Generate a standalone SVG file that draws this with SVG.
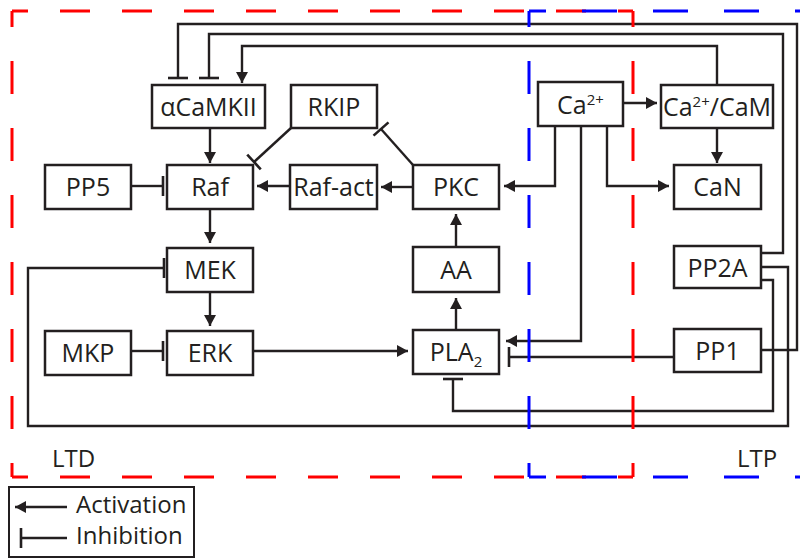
<svg xmlns="http://www.w3.org/2000/svg" width="800" height="558" viewBox="0 0 800 558">
<defs>
<style>
.box{fill:#fff;stroke:#231f20;stroke-width:2.5}
.t{font-family:"Open Sans","Noto Sans",sans-serif;font-size:25px;fill:#231f20;text-anchor:middle}
.tl{font-family:"Open Sans","Noto Sans",sans-serif;font-size:24px;fill:#231f20}
.act{fill:none;stroke:#231f20;stroke-width:2.4;marker-end:url(#arrow)}
.inh{fill:none;stroke:#231f20;stroke-width:2.4;marker-end:url(#bar)}
.rh{fill:none;stroke:#ff0000;stroke-width:3;stroke-dasharray:30 32;stroke-dashoffset:14}
.rv{fill:none;stroke:#ff0000;stroke-width:3;stroke-dasharray:33 34;stroke-dashoffset:17}
.bh{fill:none;stroke:#0000ff;stroke-width:3;stroke-dasharray:35 36;stroke-dashoffset:18}
.bv{fill:none;stroke:#0000ff;stroke-width:3;stroke-dasharray:33 34;stroke-dashoffset:17}
</style>
<marker id="arrow" markerUnits="userSpaceOnUse" markerWidth="12" markerHeight="12" refX="11" refY="6" orient="auto" viewBox="0 0 12 12">
<path d="M0,0 L11,6 L0,12 z" fill="#231f20"/>
</marker>
<marker id="bar" markerUnits="userSpaceOnUse" markerWidth="4" markerHeight="22" refX="2" refY="11" orient="auto" viewBox="0 0 4 22">
<path d="M2,1 V21" stroke="#231f20" stroke-width="2.6"/>
</marker>
</defs>

<g id="connectors">
<path class="act" d="M717,85 V46 H242 V83"/>
<path class="act" d="M623,103 H657"/>
<path class="act" d="M717,128 V163"/>
<path class="act" d="M555,126 V186 H504"/>
<path class="act" d="M581,126 V341 H506"/>
<path class="act" d="M607,126 V186 H669"/>
<path class="act" d="M210,128 V163"/>
<path class="act" d="M290,186 H257"/>
<path class="act" d="M413,187 H381"/>
<path class="act" d="M210,209 V243"/>
<path class="act" d="M210,292 V326"/>
<path class="act" d="M253,351 H408"/>
<path class="act" d="M456,330 V298"/>
<path class="act" d="M456,247 V214"/>
<path class="inh" d="M761,350 H797 V24 H178 V78"/>
<path class="inh" d="M761,253 H783 V34 H209 V78"/>
<path class="inh" d="M761,267 H788 V426 H28 V268 H164"/>
<path class="inh" d="M761,280 H773 V411 H453 V379"/>
<path class="inh" d="M674,357 H509"/>
<path class="inh" d="M131,186 H163"/>
<path class="inh" d="M131,351 H163"/>
<path class="inh" d="M291,128 L254,162"/>
<path class="inh" d="M413,165 L381,129"/>
</g>

<g id="n-camkii"><rect class="box" x="152" y="85" width="113" height="43"/><text class="t" x="208.5" y="115.5">αCaMKII</text></g>
<g id="n-rkip"><rect class="box" x="291" y="85" width="86" height="43"/><text class="t" x="334" y="115.5">RKIP</text></g>
<g id="n-ca"><rect class="box" x="538" y="82" width="85" height="44"/><text class="t" x="580.5" y="113.5">Ca<tspan font-size="15" dy="-9">2+</tspan></text></g>
<g id="n-cacam"><rect class="box" x="661" y="85" width="112" height="43"/><text class="t" x="717" y="115.5" font-size="24">Ca<tspan font-size="15" dy="-9">2+</tspan><tspan dy="9">/CaM</tspan></text></g>
<g id="n-pp5"><rect class="box" x="45" y="165" width="86" height="44"/><text class="t" x="88" y="196">PP5</text></g>
<g id="n-raf"><rect class="box" x="167" y="165" width="86" height="44"/><text class="t" x="210" y="196">Raf</text></g>
<g id="n-rafact"><rect class="box" x="290" y="165" width="87" height="44"/><text class="t" x="333.5" y="196">Raf-act</text></g>
<g id="n-pkc"><rect class="box" x="413" y="165" width="86" height="44"/><text class="t" x="456" y="196">PKC</text></g>
<g id="n-can"><rect class="box" x="674" y="165" width="87" height="44"/><text class="t" x="717.5" y="196">CaN</text></g>
<g id="n-mek"><rect class="box" x="167" y="248" width="86" height="44"/><text class="t" x="210" y="279">MEK</text></g>
<g id="n-aa"><rect class="box" x="413" y="247" width="86" height="45"/><text class="t" x="456" y="279">AA</text></g>
<g id="n-pp2a"><rect class="box" x="674" y="246" width="87" height="42"/><text class="t" x="717.5" y="276.5">PP2A</text></g>
<g id="n-mkp"><rect class="box" x="45" y="331" width="86" height="44"/><text class="t" x="88" y="362">MKP</text></g>
<g id="n-erk"><rect class="box" x="167" y="331" width="86" height="44"/><text class="t" x="210" y="362">ERK</text></g>
<g id="n-pla2"><rect class="box" x="413" y="330" width="86" height="44"/><text class="t" x="456" y="361">PLA<tspan font-size="15" dy="6">2</tspan></text></g>
<g id="n-pp1"><rect class="box" x="674" y="329" width="87" height="43"/><text class="t" x="717.5" y="359.5">PP1</text></g>

<g id="regions">
<path class="rh" d="M12,11 H633"/>
<path class="rh" d="M12,477 H633"/>
<path class="rv" d="M12,11 V477"/>
<path class="rv" d="M633,11 V477"/>
<path class="bh" d="M529,11 H800"/>
<path class="bh" d="M529,477 H800"/>
<path class="bv" d="M529,11 V477"/>
<text class="tl" x="52" y="467">LTD</text>
<text class="tl" x="737" y="467">LTP</text>
</g>

<g id="legend">
<rect x="9" y="487" width="185" height="70" fill="#fff" stroke="#231f20" stroke-width="2"/>
<path class="act" d="M67,507 H15"/>
<path class="inh" d="M67,538 H21"/>
<text class="tl" x="76" y="513">Activation</text>
<text class="tl" x="76" y="544">Inhibition</text>
</g>
</svg>
